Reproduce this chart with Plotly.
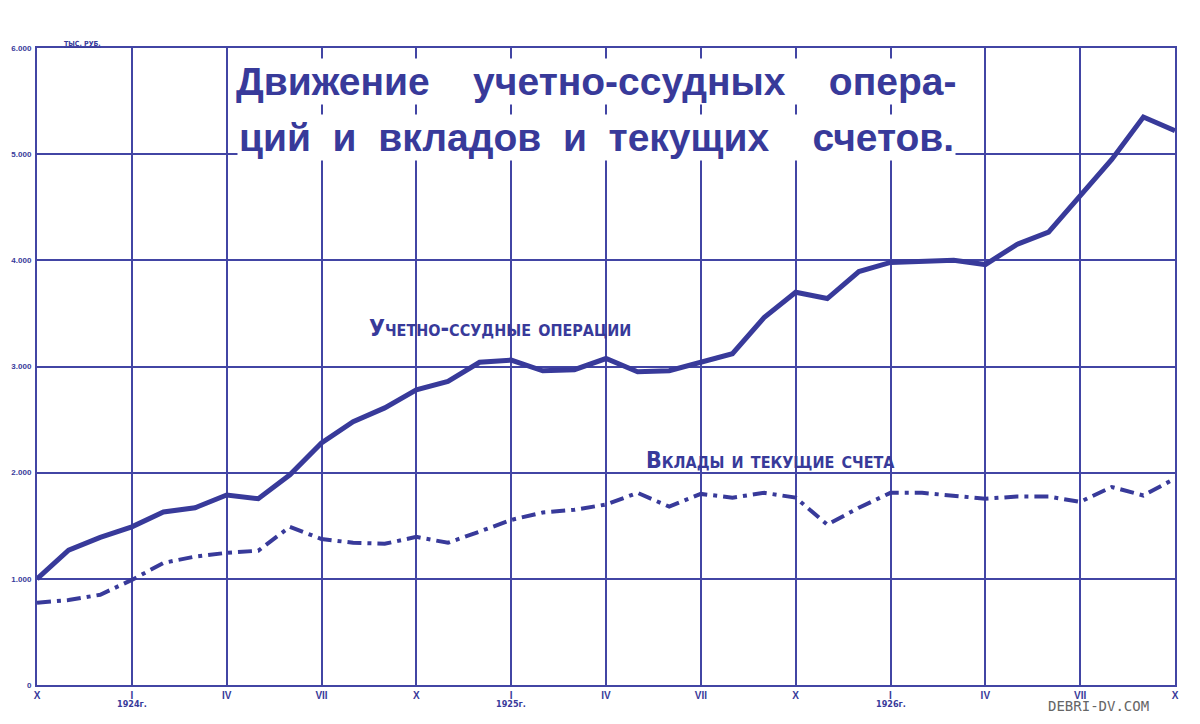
import plotly.graph_objects as go

# months from X.1923 (index 0) to X.1926 (index 36)
months = list(range(37))

loans = [1000, 1270, 1390, 1490, 1630, 1670, 1790, 1755, 1980, 2280,
         2480, 2610, 2780, 2860, 3040, 3060, 2960, 2970, 3075, 2950,
         2960, 3045, 3120, 3460, 3700, 3640, 3895, 3980, 3990, 4000,
         3960, 4150, 4265, 4600, 4950, 5350, 5220]

deposits = [775, 800, 850, 990, 1150, 1210, 1245, 1265, 1490, 1375,
            1340, 1330, 1395, 1340, 1445, 1555, 1625, 1650, 1700, 1810,
            1680, 1800, 1765, 1810, 1765, 1510, 1670, 1810, 1810, 1785,
            1755, 1775, 1775, 1725, 1865, 1785, 1945]

x_tickvals = [0, 3, 6, 9, 12, 15, 18, 21, 24, 27, 30, 33, 36]
x_ticktext = ["X", "I", "IV", "VII", "X", "I", "IV", "VII", "X", "I", "IV", "VII", "X"]
year_pos = [3, 15, 27]
year_text = ["1924г.", "1925г.", "1926г."]

y_tickvals = [0, 1000, 2000, 3000, 4000, 5000, 6000]
y_ticktext = ["0", "1.000", "2.000", "3.000", "4.000", "5.000", "6.000"]

ink = "#383a9a"
grid = "#4245a4"

# page body has an 8px margin; figure placed at (8, 8)
OFF = 8
W, H = 1184, 708
L, R, T, B = 37 - OFF, 17, 48 - OFF, 31

fig = go.Figure()
fig.add_trace(go.Scatter(x=months, y=loans, mode="lines",
                         line=dict(color=ink, width=5), name="Учетно-ссудные операции"))
fig.add_trace(go.Scatter(x=months, y=deposits, mode="lines",
                         line=dict(color=ink, width=4, dash="14px,6px,4px,6px"),
                         name="Вклады и текущие счета"))

fig.update_layout(
    width=W, height=H,
    margin=dict(l=L, r=R, t=T, b=B, autoexpand=False),
    paper_bgcolor="white", plot_bgcolor="white",
    showlegend=False,
    font=dict(family="Liberation Sans Narrow, DejaVu Sans Condensed, sans-serif", color=ink),
)
fig.update_xaxes(range=[0, 36], tickvals=x_tickvals, ticktext=x_ticktext,
                 showgrid=True, gridcolor=grid, gridwidth=1.5,
                 showline=True, linecolor=grid, linewidth=2, mirror=True,
                 zeroline=False, ticks="", tickfont=dict(size=10, color=ink,
                 family="Liberation Sans Narrow, sans-serif", weight="bold"))
fig.update_yaxes(range=[0, 6000], tickvals=y_tickvals, ticktext=y_ticktext,
                 showgrid=True, gridcolor=grid, gridwidth=1.5,
                 showline=True, linecolor=grid, linewidth=2, mirror=True,
                 zeroline=False, ticks="", ticklabelstandoff=2,
                 tickfont=dict(size=8, color=ink,
                 family="Liberation Sans Narrow, sans-serif", weight="bold"))

annotations = []
for p, t in zip(year_pos, year_text):
    annotations.append(dict(x=p, y=0, xref="x", yref="y", text=t, showarrow=False,
                            yshift=-19, font=dict(size=9, color=ink, weight="bold")))

nb = "\u00a0"
line1 = f"Движение{nb*4}учетно-ссудных{nb*4}опера-"
line2 = f"ций{nb*2}и{nb*2}вкладов{nb*2}и{nb*2}текущих{nb*4}счетов."
pix = [
    dict(x=596, y=81, text=line1, bgcolor="white",
         font=dict(size=39, color=ink, weight="bold",
                   family="Liberation Sans Narrow, sans-serif")),
    dict(x=596, y=137, text=line2, bgcolor="white",
         font=dict(size=39, color=ink, weight="bold",
                   family="Liberation Sans Narrow, sans-serif")),
    dict(x=500, y=328, text="Учетно-ссудные операции",
         font=dict(size=23, color=ink, variant="small-caps", weight="bold",
                   family="DejaVu Sans Condensed, sans-serif")),
    dict(x=770, y=460, text="Вклады и текущие счета",
         font=dict(size=23, color=ink, variant="small-caps", weight="bold",
                   family="DejaVu Sans Condensed, sans-serif")),
    dict(x=82, y=44, text="<u>ТЫС. РУБ.</u>",
         font=dict(size=7, color=ink, weight="bold")),
    dict(x=1098, y=706, text="DEBRI-DV.COM",
         font=dict(size=14, color="#666666", family="DejaVu Sans Mono")),
]
pw, ph = W - L - R, H - T - B
for a in pix:
    a["x"] = (a["x"] - OFF - L) / pw
    a["y"] = 1 - (a["y"] - OFF - T) / ph
    a.update(xref="paper", yref="paper", showarrow=False,
             xanchor="center", yanchor="middle")
    annotations.append(a)
fig.update_layout(annotations=annotations)

fig.write_html("out.html")
